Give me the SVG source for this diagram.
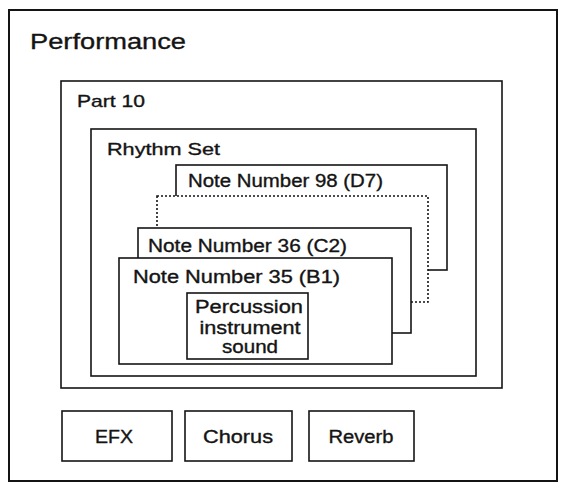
<svg xmlns="http://www.w3.org/2000/svg" width="562" height="486" viewBox="0 0 562 486">
<style>
.box{fill:#fff;stroke:#141414;stroke-width:1.6}
.outer{fill:#fff;stroke:#141414;stroke-width:2}
.dot{fill:#fff;stroke:#141414;stroke-width:1.6;stroke-dasharray:2 2}
text{font-family:"Liberation Sans",Arial,sans-serif;fill:#141414;stroke:#141414;stroke-width:0.35}
.t22{font-size:22px}
.t17{font-size:17px}
.t18{font-size:18px}
.c{text-anchor:middle}
</style>
<rect width="562" height="486" fill="#fff"/>
<g id="performance">
<rect class="outer" x="9" y="10" width="548" height="471"/>
<text class="t22" x="30" y="49" textLength="156" lengthAdjust="spacingAndGlyphs">Performance</text>
</g>
<g id="part10">
<rect class="box" x="61" y="81" width="441" height="307"/>
<text class="t17" x="77" y="107" textLength="68" lengthAdjust="spacingAndGlyphs">Part 10</text>
</g>
<g id="rhythm-set">
<rect class="box" x="91" y="129" width="385" height="247"/>
<text class="t17" x="107" y="155" textLength="113" lengthAdjust="spacingAndGlyphs">Rhythm Set</text>
</g>
<g id="note98">
<rect class="box" x="176" y="165" width="271" height="105"/>
<text class="t18" x="188" y="187" textLength="195" lengthAdjust="spacingAndGlyphs">Note Number 98 (D7)</text>
</g>
<g id="note-dotted">
<rect class="dot" x="157" y="196" width="271" height="106"/>
</g>
<g id="note36">
<rect class="box" x="138" y="228" width="273" height="105"/>
<text class="t18" x="148" y="252" textLength="199" lengthAdjust="spacingAndGlyphs">Note Number 36 (C2)</text>
</g>
<g id="note35">
<rect class="box" x="119" y="258" width="273" height="106"/>
<text class="t18" x="133" y="283" textLength="207" lengthAdjust="spacingAndGlyphs">Note Number 35 (B1)</text>
</g>
<g id="percussion">
<rect class="box" x="187" y="293" width="121" height="66"/>
<text class="t18 c" x="249" y="313" textLength="108" lengthAdjust="spacingAndGlyphs">Percussion</text>
<text class="t18 c" x="250" y="334" textLength="101" lengthAdjust="spacingAndGlyphs">instrument</text>
<text class="t18 c" x="250" y="353" textLength="56" lengthAdjust="spacingAndGlyphs">sound</text>
</g>
<g id="efx">
<rect class="box" x="62" y="411" width="110" height="50"/>
<text class="t18 c" x="114" y="443" textLength="38" lengthAdjust="spacingAndGlyphs">EFX</text>
</g>
<g id="chorus">
<rect class="box" x="185" y="411" width="107" height="50"/>
<text class="t18 c" x="238" y="443" textLength="70" lengthAdjust="spacingAndGlyphs">Chorus</text>
</g>
<g id="reverb">
<rect class="box" x="309" y="411" width="105" height="50"/>
<text class="t18 c" x="361" y="443" textLength="65" lengthAdjust="spacingAndGlyphs">Reverb</text>
</g>
<g id="connectors"></g>
</svg>
